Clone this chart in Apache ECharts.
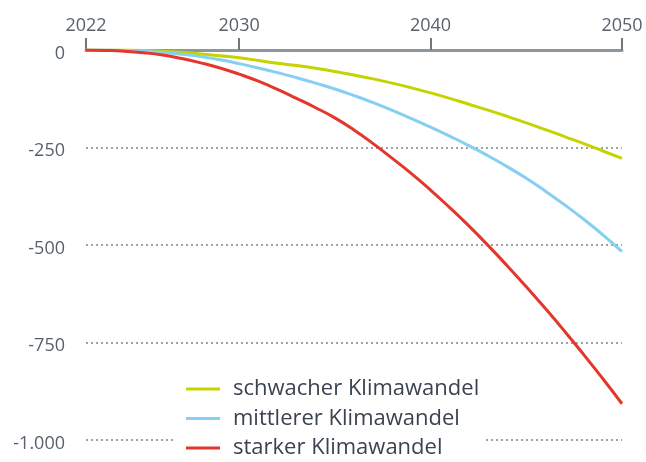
<!DOCTYPE html>
<html>
<head>
<meta charset="utf-8">
<script src="https://cdn.jsdelivr.net/npm/echarts@6/dist/echarts.min.js"></script>
<style>
    html,body{margin:0;padding:0;background:#fff;}
    #chart{width:646px;height:462px;}
</style>
</head>
<body>
<div id="chart"></div>
<script>
'use strict';

// Jahre und Werte
var years = [2022,2023,2024,2025,2026,2027,2028,2029,2030,2031,2032,2033,2034,2035,2036,
    2037,2038,2039,2040,2041,2042,2043,2044,2045,2046,2047,2048,2049,2050];
var schwach = [0,0,0,-1,-3,-6,-10,-15,-20,-27,-34,-40,-47,-55,-64,
    -74,-85,-97,-110,-124,-139,-154,-170,-187,-204,-222,-240,-259,-278];
var mittel = [0,0,-1,-3,-6,-11,-17,-25,-35,-46,-58,-71,-85,-100,-117,
    -135,-155,-176,-198,-221,-245,-271,-299,-329,-362,-397,-434,-474,-517];
var stark = [0,-1,-3,-7,-13,-22,-33,-46,-62,-80,-101,-124,-148,-174,-205,
    -240,-278,-317,-359,-404,-451,-501,-553,-607,-663,-721,-781,-843,-907];
var xTicks = [2022,2030,2040,2050];
var seriesNames = ['schwacher Klimawandel','mittlerer Klimawandel','starker Klimawandel'];
var seriesColors = ['#c5d300','#85cff2','#e4362b'];

var labelColor = '#58626d';
var fontName = 'Open Sans';

function pairs(arr){
    var out=[];
    for(var i=0;i<years.length;i++){
        out.push([years[i],arr[i]]);
    }
    return out;
}

// deutsches Tausendertrennzeichen
function fmt(v){
    if(v===0){return '{a|0}';}
    var s=String(Math.abs(v));
    if(s.length>3){s=s.slice(0,s.length-3)+'.'+s.slice(s.length-3);}
    return '{a|'+(v<0?'-':'')+s+'}';
}

var myChart = echarts.init(document.getElementById('chart'));
var allData=[schwach,mittel,stark];
var series=[];
for(var i=0;i<allData.length;i++){
    series.push({
        name:seriesNames[i],
        type:'line',
        smooth:true,
        showSymbol:false,
        data:pairs(allData[i]),
        lineStyle:{width:3,color:seriesColors[i]},
        itemStyle:{color:seriesColors[i]},
        z:2+i
    });
}

var option={
    animation:false,
    grid:{left:86,right:24,top:50,bottom:22,containLabel:false},
    xAxis:{
        type:'value',
        position:'top',
        min:2022,
        max:2050,
        axisLine:{show:true,lineStyle:{color:'#8d959d',width:3}},
        axisTick:{show:true,customValues:xTicks,length:12,lineStyle:{color:'#6f7880',width:2}},
        axisLabel:{
            customValues:xTicks,
            margin:15,
            color:labelColor,
            fontFamily:fontName,
            fontSize:18,
            formatter:function(v){return String(v);}
        },
        splitLine:{show:false}
    },
    yAxis:{
        type:'value',
        min:-1000,
        max:0,
        interval:250,
        axisLine:{show:false},
        axisTick:{show:false},
        axisLabel:{
            margin:21,
            formatter:fmt,
            rich:{
                a:{color:labelColor,fontFamily:fontName,fontSize:18,lineHeight:18,padding:[7,0,0,0]}
            }
        },
        splitLine:{show:true,lineStyle:{color:'#9aa2aa',width:2,type:[2,3]}}
    },
    legend:{
        orient:'vertical',
        left:174,
        top:375,
        backgroundColor:'#fff',
        padding:[3,4,3,12],
        itemGap:7.5,
        itemWidth:34,
        itemHeight:3,
        icon:'rect',
        textStyle:{color:'#3b4350',fontFamily:fontName,fontSize:22,lineHeight:22,padding:[0,0,0,8]},
        data:seriesNames
    },
    series:series
};
myChart.setOption(option);
</script>
</body>
</html>
